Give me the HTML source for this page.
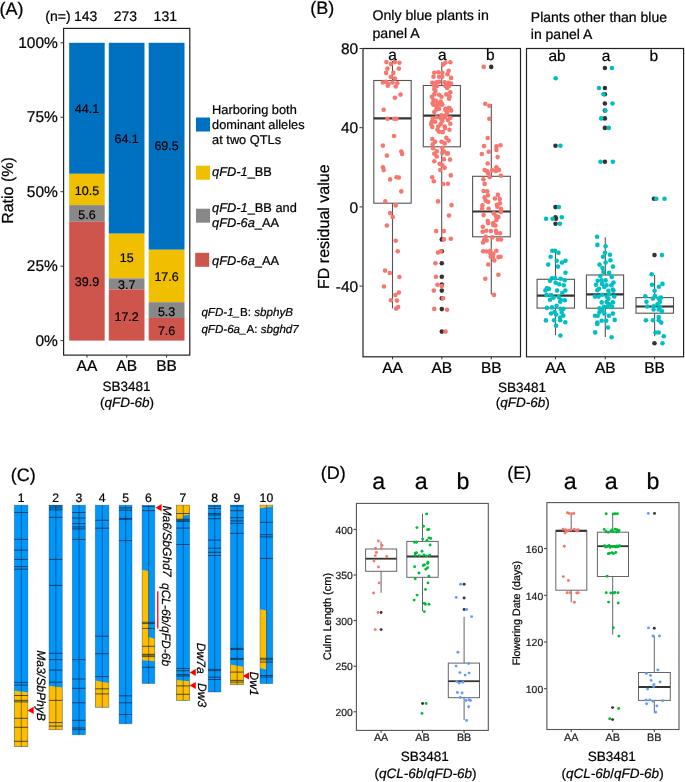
<!DOCTYPE html>
<html><head><meta charset="utf-8"><style>
html,body{margin:0;padding:0;background:#fff;}
body{width:685px;height:782px;overflow:hidden;}
svg{display:block;font-family:"Liberation Sans", sans-serif;will-change:transform;}
text{fill:#000;stroke:#000;stroke-width:0.22px;text-rendering:geometricPrecision;}
</style></head><body>
<svg width="685" height="782" viewBox="0 0 685 782">
<text x="-0.6" y="14.9" font-size="18" text-anchor="start" >(A)</text>
<text x="45.3" y="20.8" font-size="14" text-anchor="start" >(n=)</text>
<text x="85.65" y="20.8" font-size="14" text-anchor="middle" >143</text>
<rect x="69.20" y="42.80" width="35.50" height="131.03" fill="#0070C0" />
<rect x="69.20" y="173.83" width="35.50" height="31.27" fill="#F0C000" />
<rect x="69.20" y="205.10" width="35.50" height="16.68" fill="#888888" />
<rect x="69.20" y="221.78" width="35.50" height="118.82" fill="#CE554C" />
<text x="125.35000000000001" y="20.8" font-size="14" text-anchor="middle" >273</text>
<rect x="108.80" y="42.80" width="35.70" height="190.89" fill="#0070C0" />
<rect x="108.80" y="233.69" width="35.70" height="44.67" fill="#F0C000" />
<rect x="108.80" y="278.36" width="35.70" height="11.02" fill="#888888" />
<rect x="108.80" y="289.38" width="35.70" height="51.22" fill="#CE554C" />
<text x="165.29999999999998" y="20.8" font-size="14" text-anchor="middle" >131</text>
<rect x="148.70" y="42.80" width="35.80" height="206.97" fill="#0070C0" />
<rect x="148.70" y="249.77" width="35.80" height="52.41" fill="#F0C000" />
<rect x="148.70" y="302.18" width="35.80" height="15.78" fill="#888888" />
<rect x="148.70" y="317.97" width="35.80" height="22.63" fill="#CE554C" />
<rect x="63.6" y="28.4" width="126.2" height="326.7" fill="none" stroke="#222" stroke-width="1.2"/>
<line x1="60.50" y1="42.80" x2="63.50" y2="42.80" stroke="#333" stroke-width="1" />
<text x="57.9" y="48.000000000000014" font-size="15.5" text-anchor="end" >100%</text>
<line x1="60.50" y1="117.25" x2="63.50" y2="117.25" stroke="#333" stroke-width="1" />
<text x="57.9" y="122.45000000000003" font-size="15.5" text-anchor="end" >75%</text>
<line x1="60.50" y1="191.70" x2="63.50" y2="191.70" stroke="#333" stroke-width="1" />
<text x="57.9" y="196.9" font-size="15.5" text-anchor="end" >50%</text>
<line x1="60.50" y1="266.15" x2="63.50" y2="266.15" stroke="#333" stroke-width="1" />
<text x="57.9" y="271.35" font-size="15.5" text-anchor="end" >25%</text>
<line x1="60.50" y1="340.60" x2="63.50" y2="340.60" stroke="#333" stroke-width="1" />
<text x="57.9" y="345.8" font-size="15.5" text-anchor="end" >0%</text>
<line x1="86.95" y1="354.90" x2="86.95" y2="357.60" stroke="#333" stroke-width="1" />
<text x="86.95" y="371.3" font-size="15.5" text-anchor="middle" >AA</text>
<line x1="126.65" y1="354.90" x2="126.65" y2="357.60" stroke="#333" stroke-width="1" />
<text x="126.65" y="371.3" font-size="15.5" text-anchor="middle" >AB</text>
<line x1="166.60" y1="354.90" x2="166.60" y2="357.60" stroke="#333" stroke-width="1" />
<text x="166.6" y="371.3" font-size="15.5" text-anchor="middle" >BB</text>
<text x="86.95" y="112.8" font-size="12.5" text-anchor="middle" >44.1</text>
<text x="86.95" y="194.8" font-size="12.5" text-anchor="middle" >10.5</text>
<text x="86.95" y="219.2" font-size="12.5" text-anchor="middle" >5.6</text>
<text x="86.95" y="286.4" font-size="12.5" text-anchor="middle" >39.9</text>
<text x="126.65" y="143.4" font-size="12.5" text-anchor="middle" >64.1</text>
<text x="126.65" y="261.6" font-size="12.5" text-anchor="middle" >15</text>
<text x="126.65" y="289.3" font-size="12.5" text-anchor="middle" >3.7</text>
<text x="126.65" y="320.5" font-size="12.5" text-anchor="middle" >17.2</text>
<text x="166.6" y="150.4" font-size="12.5" text-anchor="middle" >69.5</text>
<text x="166.6" y="281.4" font-size="12.5" text-anchor="middle" >17.6</text>
<text x="166.6" y="315.6" font-size="12.5" text-anchor="middle" >5.3</text>
<text x="166.6" y="334.5" font-size="12.5" text-anchor="middle" >7.6</text>
<text x="126.6" y="391.3" font-size="13.5" text-anchor="middle" >SB3481</text>
<text x="126.9" y="407.0" font-size="13.5" text-anchor="middle" >(<tspan font-style="italic">qFD-6b</tspan>)</text>
<text x="0" y="0" font-size="16" text-anchor="middle" transform="translate(12.9,190.5) rotate(-90)" >Ratio (%)</text>
<rect x="196.00" y="117.50" width="14.00" height="14.00" fill="#0070C0" />
<rect x="196.00" y="165.70" width="14.00" height="14.00" fill="#F0C000" />
<rect x="196.00" y="208.70" width="14.00" height="14.00" fill="#888888" />
<rect x="195.20" y="252.80" width="14.00" height="14.00" fill="#CE554C" />
<text x="212.1" y="113.6" font-size="12.8" text-anchor="start" >Harboring both</text>
<text x="212.1" y="129.0" font-size="12.8" text-anchor="start" >dominant alleles</text>
<text x="212.1" y="143.9" font-size="12.8" text-anchor="start" >at two QTLs</text>
<text x="212.1" y="176.0" font-size="12.8" text-anchor="start" ><tspan font-style="italic">qFD-1</tspan>_BB</text>
<text x="212.1" y="211.5" font-size="12.8" text-anchor="start" ><tspan font-style="italic">qFD-1</tspan>_BB and</text>
<text x="212.1" y="226.8" font-size="12.8" text-anchor="start" ><tspan font-style="italic">qFD-6a</tspan>_AA</text>
<text x="212.1" y="265.0" font-size="12.8" text-anchor="start" ><tspan font-style="italic">qFD-6a</tspan>_AA</text>
<text x="201.4" y="315.8" font-size="11.6" text-anchor="start" ><tspan font-style="italic">qFD-1_</tspan>B: <tspan font-style="italic">sbphyB</tspan></text>
<text x="201.4" y="333.0" font-size="11.6" text-anchor="start" ><tspan font-style="italic">qFD-6a_</tspan>A: <tspan font-style="italic">sbghd7</tspan></text>
<text x="310.2" y="13.7" font-size="18" text-anchor="start" >(B)</text>
<text x="372.5" y="20.2" font-size="14.15" text-anchor="start" >Only blue plants in</text>
<text x="372.5" y="37.5" font-size="14.15" text-anchor="start" >panel A</text>
<text x="530.8" y="21.8" font-size="14" text-anchor="start" >Plants other than blue</text>
<text x="530.8" y="39.1" font-size="14" text-anchor="start" >in panel A</text>
<line x1="359.50" y1="48.50" x2="362.50" y2="48.50" stroke="#333" stroke-width="1" />
<text x="358.2" y="54.1" font-size="15.5" text-anchor="end" >80</text>
<line x1="359.50" y1="127.70" x2="362.50" y2="127.70" stroke="#333" stroke-width="1" />
<text x="358.2" y="133.3" font-size="15.5" text-anchor="end" >40</text>
<line x1="359.50" y1="206.90" x2="362.50" y2="206.90" stroke="#333" stroke-width="1" />
<text x="358.2" y="212.5" font-size="15.5" text-anchor="end" >0</text>
<line x1="359.50" y1="286.10" x2="362.50" y2="286.10" stroke="#333" stroke-width="1" />
<text x="358.2" y="291.70000000000005" font-size="15.5" text-anchor="end" >-40</text>
<text x="0" y="0" font-size="16" text-anchor="middle" transform="translate(329.4,226.7) rotate(-90)" >FD residual value</text>
<line x1="392.50" y1="61.00" x2="392.50" y2="80.50" stroke="#555" stroke-width="1.1" />
<line x1="392.50" y1="203.20" x2="392.50" y2="308.40" stroke="#555" stroke-width="1.1" />
<rect x="373.80" y="80.50" width="37.40" height="122.70" fill="none" stroke="#555" stroke-width="1.1"/>
<line x1="373.80" y1="118.30" x2="411.20" y2="118.30" stroke="#333" stroke-width="2.2" />
<line x1="441.70" y1="62.20" x2="441.70" y2="85.50" stroke="#555" stroke-width="1.1" />
<line x1="441.70" y1="146.80" x2="441.70" y2="239.40" stroke="#555" stroke-width="1.1" />
<rect x="423.30" y="85.50" width="37.10" height="61.30" fill="none" stroke="#555" stroke-width="1.1"/>
<line x1="423.30" y1="115.70" x2="460.40" y2="115.70" stroke="#333" stroke-width="2.2" />
<line x1="491.30" y1="104.10" x2="491.30" y2="176.30" stroke="#555" stroke-width="1.1" />
<line x1="491.30" y1="236.80" x2="491.30" y2="294.40" stroke="#555" stroke-width="1.1" />
<rect x="472.60" y="176.30" width="37.70" height="60.50" fill="none" stroke="#555" stroke-width="1.1"/>
<line x1="472.60" y1="211.50" x2="510.30" y2="211.50" stroke="#333" stroke-width="2.2" />
<line x1="555.50" y1="250.80" x2="555.50" y2="279.30" stroke="#555" stroke-width="1.1" />
<line x1="555.50" y1="308.10" x2="555.50" y2="335.20" stroke="#555" stroke-width="1.1" />
<rect x="537.10" y="279.30" width="37.40" height="28.80" fill="none" stroke="#555" stroke-width="1.1"/>
<line x1="537.10" y1="295.60" x2="574.50" y2="295.60" stroke="#333" stroke-width="2.2" />
<line x1="605.30" y1="237.20" x2="605.30" y2="275.00" stroke="#555" stroke-width="1.1" />
<line x1="605.30" y1="308.20" x2="605.30" y2="337.00" stroke="#555" stroke-width="1.1" />
<rect x="586.40" y="275.00" width="37.20" height="33.20" fill="none" stroke="#555" stroke-width="1.1"/>
<line x1="586.40" y1="294.30" x2="623.60" y2="294.30" stroke="#333" stroke-width="2.2" />
<line x1="654.60" y1="274.90" x2="654.60" y2="297.60" stroke="#555" stroke-width="1.1" />
<line x1="654.60" y1="313.20" x2="654.60" y2="336.30" stroke="#555" stroke-width="1.1" />
<rect x="636.00" y="297.60" width="37.50" height="15.60" fill="none" stroke="#555" stroke-width="1.1"/>
<line x1="636.00" y1="306.50" x2="673.50" y2="306.50" stroke="#333" stroke-width="2.2" />
<circle cx="441.8" cy="239.4" r="2.3" fill="#333333"/>
<circle cx="441.8" cy="251.3" r="2.3" fill="#333333"/>
<circle cx="441.8" cy="263.2" r="2.3" fill="#333333"/>
<circle cx="441.8" cy="276.8" r="2.3" fill="#333333"/>
<circle cx="441.8" cy="284.5" r="2.3" fill="#333333"/>
<circle cx="441.8" cy="290.6" r="2.3" fill="#333333"/>
<circle cx="441.8" cy="298.2" r="2.3" fill="#333333"/>
<circle cx="441.8" cy="309.1" r="2.3" fill="#333333"/>
<circle cx="441.8" cy="331.6" r="2.3" fill="#333333"/>
<circle cx="491.2" cy="66.9" r="2.3" fill="#333333"/>
<circle cx="555.5" cy="145.8" r="2.3" fill="#333333"/>
<circle cx="555.5" cy="207.1" r="2.3" fill="#333333"/>
<circle cx="555.5" cy="217.3" r="2.3" fill="#333333"/>
<circle cx="556.0" cy="218.8" r="2.3" fill="#333333"/>
<circle cx="555.5" cy="223.7" r="2.3" fill="#333333"/>
<circle cx="604.9" cy="68.0" r="2.3" fill="#333333"/>
<circle cx="604.9" cy="88.0" r="2.3" fill="#333333"/>
<circle cx="604.9" cy="94.2" r="2.3" fill="#333333"/>
<circle cx="604.9" cy="103.5" r="2.3" fill="#333333"/>
<circle cx="604.9" cy="110.5" r="2.3" fill="#333333"/>
<circle cx="604.9" cy="118.4" r="2.3" fill="#333333"/>
<circle cx="604.9" cy="127.9" r="2.3" fill="#333333"/>
<circle cx="604.9" cy="161.7" r="2.3" fill="#333333"/>
<circle cx="654.0" cy="198.8" r="2.3" fill="#333333"/>
<circle cx="654.5" cy="255.1" r="2.3" fill="#333333"/>
<circle cx="654.5" cy="343.3" r="2.3" fill="#333333"/>
<circle cx="386.4" cy="62.1" r="2.3" fill="#F8766D"/>
<circle cx="390.9" cy="64.1" r="2.3" fill="#F8766D"/>
<circle cx="394.9" cy="62.1" r="2.3" fill="#F8766D"/>
<circle cx="399.4" cy="62.8" r="2.3" fill="#F8766D"/>
<circle cx="387.4" cy="68.6" r="2.3" fill="#F8766D"/>
<circle cx="398.9" cy="68.6" r="2.3" fill="#F8766D"/>
<circle cx="386.1" cy="72.9" r="2.3" fill="#F8766D"/>
<circle cx="393.3" cy="72.9" r="2.3" fill="#F8766D"/>
<circle cx="390.9" cy="76.9" r="2.3" fill="#F8766D"/>
<circle cx="394.9" cy="78.5" r="2.3" fill="#F8766D"/>
<circle cx="382.9" cy="82.5" r="2.3" fill="#F8766D"/>
<circle cx="386.1" cy="81.7" r="2.3" fill="#F8766D"/>
<circle cx="388.5" cy="84.1" r="2.3" fill="#F8766D"/>
<circle cx="387.7" cy="85.7" r="2.3" fill="#F8766D"/>
<circle cx="392.5" cy="82.5" r="2.3" fill="#F8766D"/>
<circle cx="397.3" cy="83.3" r="2.3" fill="#F8766D"/>
<circle cx="395.7" cy="86.5" r="2.3" fill="#F8766D"/>
<circle cx="400.5" cy="94.6" r="2.3" fill="#F8766D"/>
<circle cx="394.9" cy="97.8" r="2.3" fill="#F8766D"/>
<circle cx="383.7" cy="109.8" r="2.3" fill="#F8766D"/>
<circle cx="387.4" cy="118.7" r="2.3" fill="#F8766D"/>
<circle cx="394.1" cy="118.7" r="2.3" fill="#F8766D"/>
<circle cx="396.5" cy="118.7" r="2.3" fill="#F8766D"/>
<circle cx="394.1" cy="136.0" r="2.3" fill="#F8766D"/>
<circle cx="382.9" cy="145.6" r="2.3" fill="#F8766D"/>
<circle cx="386.9" cy="155.6" r="2.3" fill="#F8766D"/>
<circle cx="401.3" cy="151.6" r="2.3" fill="#F8766D"/>
<circle cx="402.1" cy="154.0" r="2.3" fill="#F8766D"/>
<circle cx="382.9" cy="167.3" r="2.3" fill="#F8766D"/>
<circle cx="383.7" cy="170.1" r="2.3" fill="#F8766D"/>
<circle cx="390.1" cy="179.4" r="2.3" fill="#F8766D"/>
<circle cx="396.5" cy="177.3" r="2.3" fill="#F8766D"/>
<circle cx="398.9" cy="177.6" r="2.3" fill="#F8766D"/>
<circle cx="401.3" cy="191.4" r="2.3" fill="#F8766D"/>
<circle cx="385.3" cy="201.4" r="2.3" fill="#F8766D"/>
<circle cx="395.7" cy="205.4" r="2.3" fill="#F8766D"/>
<circle cx="390.1" cy="213.1" r="2.3" fill="#F8766D"/>
<circle cx="392.8" cy="217.0" r="2.3" fill="#F8766D"/>
<circle cx="386.9" cy="225.5" r="2.3" fill="#F8766D"/>
<circle cx="395.7" cy="240.7" r="2.3" fill="#F8766D"/>
<circle cx="397.7" cy="251.3" r="2.3" fill="#F8766D"/>
<circle cx="385.0" cy="270.6" r="2.3" fill="#F8766D"/>
<circle cx="389.8" cy="273.0" r="2.3" fill="#F8766D"/>
<circle cx="399.4" cy="277.0" r="2.3" fill="#F8766D"/>
<circle cx="384.0" cy="286.5" r="2.3" fill="#F8766D"/>
<circle cx="398.9" cy="292.6" r="2.3" fill="#F8766D"/>
<circle cx="395.4" cy="295.0" r="2.3" fill="#F8766D"/>
<circle cx="390.9" cy="300.3" r="2.3" fill="#F8766D"/>
<circle cx="397.0" cy="300.6" r="2.3" fill="#F8766D"/>
<circle cx="398.1" cy="307.0" r="2.3" fill="#F8766D"/>
<circle cx="396.2" cy="308.6" r="2.3" fill="#F8766D"/>
<circle cx="443.1" cy="64.6" r="2.3" fill="#F8766D"/>
<circle cx="445.5" cy="62.6" r="2.3" fill="#F8766D"/>
<circle cx="450.3" cy="62.2" r="2.3" fill="#F8766D"/>
<circle cx="448.7" cy="70.7" r="2.3" fill="#F8766D"/>
<circle cx="447.5" cy="74.3" r="2.3" fill="#F8766D"/>
<circle cx="434.3" cy="72.7" r="2.3" fill="#F8766D"/>
<circle cx="438.3" cy="72.3" r="2.3" fill="#F8766D"/>
<circle cx="442.3" cy="72.7" r="2.3" fill="#F8766D"/>
<circle cx="433.5" cy="76.7" r="2.3" fill="#F8766D"/>
<circle cx="439.1" cy="76.7" r="2.3" fill="#F8766D"/>
<circle cx="442.3" cy="76.7" r="2.3" fill="#F8766D"/>
<circle cx="451.1" cy="77.9" r="2.3" fill="#F8766D"/>
<circle cx="432.3" cy="82.7" r="2.3" fill="#F8766D"/>
<circle cx="436.3" cy="82.3" r="2.3" fill="#F8766D"/>
<circle cx="439.1" cy="81.9" r="2.3" fill="#F8766D"/>
<circle cx="444.7" cy="82.3" r="2.3" fill="#F8766D"/>
<circle cx="448.7" cy="82.7" r="2.3" fill="#F8766D"/>
<circle cx="451.1" cy="83.5" r="2.3" fill="#F8766D"/>
<circle cx="433.9" cy="85.5" r="2.3" fill="#F8766D"/>
<circle cx="436.7" cy="86.3" r="2.3" fill="#F8766D"/>
<circle cx="445.5" cy="85.9" r="2.3" fill="#F8766D"/>
<circle cx="448.7" cy="86.3" r="2.3" fill="#F8766D"/>
<circle cx="434.3" cy="89.1" r="2.3" fill="#F8766D"/>
<circle cx="447.1" cy="87.9" r="2.3" fill="#F8766D"/>
<circle cx="435.5" cy="91.1" r="2.3" fill="#F8766D"/>
<circle cx="450.3" cy="92.3" r="2.3" fill="#F8766D"/>
<circle cx="434.3" cy="94.4" r="2.3" fill="#F8766D"/>
<circle cx="439.1" cy="94.8" r="2.3" fill="#F8766D"/>
<circle cx="446.3" cy="94.4" r="2.3" fill="#F8766D"/>
<circle cx="449.5" cy="96.4" r="2.3" fill="#F8766D"/>
<circle cx="431.9" cy="96.8" r="2.3" fill="#F8766D"/>
<circle cx="441.5" cy="96.8" r="2.3" fill="#F8766D"/>
<circle cx="449.1" cy="98.8" r="2.3" fill="#F8766D"/>
<circle cx="433.5" cy="100.0" r="2.3" fill="#F8766D"/>
<circle cx="432.7" cy="103.2" r="2.3" fill="#F8766D"/>
<circle cx="437.5" cy="102.8" r="2.3" fill="#F8766D"/>
<circle cx="440.7" cy="101.6" r="2.3" fill="#F8766D"/>
<circle cx="441.5" cy="104.8" r="2.3" fill="#F8766D"/>
<circle cx="436.7" cy="106.4" r="2.3" fill="#F8766D"/>
<circle cx="445.5" cy="108.8" r="2.3" fill="#F8766D"/>
<circle cx="449.5" cy="108.0" r="2.3" fill="#F8766D"/>
<circle cx="439.1" cy="108.8" r="2.3" fill="#F8766D"/>
<circle cx="435.9" cy="100.8" r="2.3" fill="#F8766D"/>
<circle cx="439.9" cy="103.2" r="2.3" fill="#F8766D"/>
<circle cx="442.3" cy="104.4" r="2.3" fill="#F8766D"/>
<circle cx="433.5" cy="104.8" r="2.3" fill="#F8766D"/>
<circle cx="437.5" cy="105.6" r="2.3" fill="#F8766D"/>
<circle cx="436.3" cy="109.6" r="2.3" fill="#F8766D"/>
<circle cx="434.3" cy="112.0" r="2.3" fill="#F8766D"/>
<circle cx="448.7" cy="108.0" r="2.3" fill="#F8766D"/>
<circle cx="445.5" cy="110.0" r="2.3" fill="#F8766D"/>
<circle cx="451.1" cy="110.4" r="2.3" fill="#F8766D"/>
<circle cx="447.1" cy="112.4" r="2.3" fill="#F8766D"/>
<circle cx="441.5" cy="115.3" r="2.3" fill="#F8766D"/>
<circle cx="446.3" cy="114.9" r="2.3" fill="#F8766D"/>
<circle cx="432.7" cy="118.5" r="2.3" fill="#F8766D"/>
<circle cx="436.7" cy="117.3" r="2.3" fill="#F8766D"/>
<circle cx="440.7" cy="118.5" r="2.3" fill="#F8766D"/>
<circle cx="444.7" cy="117.3" r="2.3" fill="#F8766D"/>
<circle cx="450.3" cy="117.7" r="2.3" fill="#F8766D"/>
<circle cx="431.9" cy="121.7" r="2.3" fill="#F8766D"/>
<circle cx="435.1" cy="121.7" r="2.3" fill="#F8766D"/>
<circle cx="442.3" cy="120.9" r="2.3" fill="#F8766D"/>
<circle cx="447.9" cy="120.1" r="2.3" fill="#F8766D"/>
<circle cx="431.1" cy="124.1" r="2.3" fill="#F8766D"/>
<circle cx="440.7" cy="124.1" r="2.3" fill="#F8766D"/>
<circle cx="450.3" cy="123.7" r="2.3" fill="#F8766D"/>
<circle cx="432.3" cy="126.9" r="2.3" fill="#F8766D"/>
<circle cx="438.3" cy="126.5" r="2.3" fill="#F8766D"/>
<circle cx="444.7" cy="126.5" r="2.3" fill="#F8766D"/>
<circle cx="445.1" cy="128.1" r="2.3" fill="#F8766D"/>
<circle cx="437.5" cy="129.7" r="2.3" fill="#F8766D"/>
<circle cx="449.5" cy="129.7" r="2.3" fill="#F8766D"/>
<circle cx="439.1" cy="131.7" r="2.3" fill="#F8766D"/>
<circle cx="442.7" cy="132.1" r="2.3" fill="#F8766D"/>
<circle cx="432.3" cy="139.0" r="2.3" fill="#F8766D"/>
<circle cx="435.1" cy="141.8" r="2.3" fill="#F8766D"/>
<circle cx="441.5" cy="141.8" r="2.3" fill="#F8766D"/>
<circle cx="446.3" cy="137.8" r="2.3" fill="#F8766D"/>
<circle cx="448.7" cy="140.6" r="2.3" fill="#F8766D"/>
<circle cx="444.7" cy="143.4" r="2.3" fill="#F8766D"/>
<circle cx="432.7" cy="144.2" r="2.3" fill="#F8766D"/>
<circle cx="433.1" cy="148.2" r="2.3" fill="#F8766D"/>
<circle cx="442.3" cy="147.8" r="2.3" fill="#F8766D"/>
<circle cx="436.7" cy="151.4" r="2.3" fill="#F8766D"/>
<circle cx="443.9" cy="151.4" r="2.3" fill="#F8766D"/>
<circle cx="434.3" cy="153.8" r="2.3" fill="#F8766D"/>
<circle cx="447.9" cy="153.4" r="2.3" fill="#F8766D"/>
<circle cx="432.2" cy="177.3" r="2.3" fill="#F8766D"/>
<circle cx="433.8" cy="181.3" r="2.3" fill="#F8766D"/>
<circle cx="443.1" cy="184.0" r="2.3" fill="#F8766D"/>
<circle cx="447.9" cy="183.7" r="2.3" fill="#F8766D"/>
<circle cx="450.8" cy="175.4" r="2.3" fill="#F8766D"/>
<circle cx="440.2" cy="170.1" r="2.3" fill="#F8766D"/>
<circle cx="444.7" cy="167.7" r="2.3" fill="#F8766D"/>
<circle cx="442.3" cy="165.3" r="2.3" fill="#F8766D"/>
<circle cx="439.6" cy="163.7" r="2.3" fill="#F8766D"/>
<circle cx="434.3" cy="161.2" r="2.3" fill="#F8766D"/>
<circle cx="443.9" cy="159.3" r="2.3" fill="#F8766D"/>
<circle cx="450.0" cy="159.6" r="2.3" fill="#F8766D"/>
<circle cx="436.7" cy="156.4" r="2.3" fill="#F8766D"/>
<circle cx="442.3" cy="152.9" r="2.3" fill="#F8766D"/>
<circle cx="447.1" cy="153.5" r="2.3" fill="#F8766D"/>
<circle cx="438.0" cy="201.4" r="2.3" fill="#F8766D"/>
<circle cx="451.5" cy="205.1" r="2.3" fill="#F8766D"/>
<circle cx="449.0" cy="215.5" r="2.3" fill="#F8766D"/>
<circle cx="436.2" cy="231.1" r="2.3" fill="#F8766D"/>
<circle cx="443.9" cy="231.1" r="2.3" fill="#F8766D"/>
<circle cx="443.9" cy="239.4" r="2.3" fill="#F8766D"/>
<circle cx="450.8" cy="238.8" r="2.3" fill="#F8766D"/>
<circle cx="438.0" cy="252.5" r="2.3" fill="#F8766D"/>
<circle cx="440.7" cy="251.2" r="2.3" fill="#F8766D"/>
<circle cx="435.4" cy="263.2" r="2.3" fill="#F8766D"/>
<circle cx="435.9" cy="276.8" r="2.3" fill="#F8766D"/>
<circle cx="437.5" cy="284.8" r="2.3" fill="#F8766D"/>
<circle cx="441.8" cy="286.1" r="2.3" fill="#F8766D"/>
<circle cx="433.8" cy="290.6" r="2.3" fill="#F8766D"/>
<circle cx="443.1" cy="298.2" r="2.3" fill="#F8766D"/>
<circle cx="434.3" cy="308.9" r="2.3" fill="#F8766D"/>
<circle cx="447.1" cy="309.7" r="2.3" fill="#F8766D"/>
<circle cx="445.5" cy="331.6" r="2.3" fill="#F8766D"/>
<circle cx="483.7" cy="66.9" r="2.3" fill="#F8766D"/>
<circle cx="485.3" cy="103.8" r="2.3" fill="#F8766D"/>
<circle cx="489.3" cy="105.7" r="2.3" fill="#F8766D"/>
<circle cx="489.3" cy="118.7" r="2.3" fill="#F8766D"/>
<circle cx="487.7" cy="138.0" r="2.3" fill="#F8766D"/>
<circle cx="484.1" cy="146.1" r="2.3" fill="#F8766D"/>
<circle cx="488.7" cy="151.7" r="2.3" fill="#F8766D"/>
<circle cx="481.8" cy="154.0" r="2.3" fill="#F8766D"/>
<circle cx="496.4" cy="146.4" r="2.3" fill="#F8766D"/>
<circle cx="500.5" cy="145.3" r="2.3" fill="#F8766D"/>
<circle cx="496.4" cy="149.9" r="2.3" fill="#F8766D"/>
<circle cx="497.6" cy="157.1" r="2.3" fill="#F8766D"/>
<circle cx="487.7" cy="163.5" r="2.3" fill="#F8766D"/>
<circle cx="484.6" cy="170.1" r="2.3" fill="#F8766D"/>
<circle cx="487.2" cy="171.4" r="2.3" fill="#F8766D"/>
<circle cx="488.2" cy="173.4" r="2.3" fill="#F8766D"/>
<circle cx="489.7" cy="177.3" r="2.3" fill="#F8766D"/>
<circle cx="492.3" cy="170.2" r="2.3" fill="#F8766D"/>
<circle cx="496.4" cy="167.3" r="2.3" fill="#F8766D"/>
<circle cx="495.9" cy="170.9" r="2.3" fill="#F8766D"/>
<circle cx="498.9" cy="169.9" r="2.3" fill="#F8766D"/>
<circle cx="501.0" cy="175.7" r="2.3" fill="#F8766D"/>
<circle cx="483.4" cy="179.3" r="2.3" fill="#F8766D"/>
<circle cx="484.6" cy="183.9" r="2.3" fill="#F8766D"/>
<circle cx="483.6" cy="191.0" r="2.3" fill="#F8766D"/>
<circle cx="487.2" cy="191.3" r="2.3" fill="#F8766D"/>
<circle cx="487.9" cy="195.2" r="2.3" fill="#F8766D"/>
<circle cx="484.6" cy="197.4" r="2.3" fill="#F8766D"/>
<circle cx="497.9" cy="194.9" r="2.3" fill="#F8766D"/>
<circle cx="494.9" cy="198.5" r="2.3" fill="#F8766D"/>
<circle cx="499.7" cy="199.0" r="2.3" fill="#F8766D"/>
<circle cx="485.7" cy="200.6" r="2.3" fill="#F8766D"/>
<circle cx="488.2" cy="202.0" r="2.3" fill="#F8766D"/>
<circle cx="500.0" cy="203.2" r="2.3" fill="#F8766D"/>
<circle cx="496.9" cy="204.7" r="2.3" fill="#F8766D"/>
<circle cx="497.4" cy="206.8" r="2.3" fill="#F8766D"/>
<circle cx="482.4" cy="205.2" r="2.3" fill="#F8766D"/>
<circle cx="482.1" cy="208.8" r="2.3" fill="#F8766D"/>
<circle cx="488.7" cy="208.8" r="2.3" fill="#F8766D"/>
<circle cx="501.0" cy="208.8" r="2.3" fill="#F8766D"/>
<circle cx="501.0" cy="211.9" r="2.3" fill="#F8766D"/>
<circle cx="483.6" cy="215.1" r="2.3" fill="#F8766D"/>
<circle cx="493.8" cy="213.4" r="2.3" fill="#F8766D"/>
<circle cx="495.9" cy="215.9" r="2.3" fill="#F8766D"/>
<circle cx="498.4" cy="217.0" r="2.3" fill="#F8766D"/>
<circle cx="496.4" cy="220.0" r="2.3" fill="#F8766D"/>
<circle cx="487.7" cy="221.1" r="2.3" fill="#F8766D"/>
<circle cx="488.2" cy="223.1" r="2.3" fill="#F8766D"/>
<circle cx="493.3" cy="223.1" r="2.3" fill="#F8766D"/>
<circle cx="493.3" cy="225.1" r="2.3" fill="#F8766D"/>
<circle cx="495.4" cy="225.5" r="2.3" fill="#F8766D"/>
<circle cx="482.8" cy="226.7" r="2.3" fill="#F8766D"/>
<circle cx="482.6" cy="231.8" r="2.3" fill="#F8766D"/>
<circle cx="486.2" cy="230.8" r="2.3" fill="#F8766D"/>
<circle cx="490.8" cy="231.0" r="2.3" fill="#F8766D"/>
<circle cx="495.9" cy="230.8" r="2.3" fill="#F8766D"/>
<circle cx="496.4" cy="233.0" r="2.3" fill="#F8766D"/>
<circle cx="500.0" cy="233.3" r="2.3" fill="#F8766D"/>
<circle cx="485.7" cy="236.9" r="2.3" fill="#F8766D"/>
<circle cx="484.1" cy="240.0" r="2.3" fill="#F8766D"/>
<circle cx="486.7" cy="240.5" r="2.3" fill="#F8766D"/>
<circle cx="483.1" cy="242.5" r="2.3" fill="#F8766D"/>
<circle cx="492.3" cy="237.4" r="2.3" fill="#F8766D"/>
<circle cx="497.9" cy="239.5" r="2.3" fill="#F8766D"/>
<circle cx="501.0" cy="239.5" r="2.3" fill="#F8766D"/>
<circle cx="483.1" cy="251.2" r="2.3" fill="#F8766D"/>
<circle cx="486.2" cy="251.5" r="2.3" fill="#F8766D"/>
<circle cx="490.3" cy="250.7" r="2.3" fill="#F8766D"/>
<circle cx="490.3" cy="253.2" r="2.3" fill="#F8766D"/>
<circle cx="493.3" cy="253.8" r="2.3" fill="#F8766D"/>
<circle cx="496.4" cy="250.7" r="2.3" fill="#F8766D"/>
<circle cx="490.8" cy="256.8" r="2.3" fill="#F8766D"/>
<circle cx="498.4" cy="257.1" r="2.3" fill="#F8766D"/>
<circle cx="500.5" cy="256.8" r="2.3" fill="#F8766D"/>
<circle cx="494.3" cy="260.4" r="2.3" fill="#F8766D"/>
<circle cx="488.2" cy="264.5" r="2.3" fill="#F8766D"/>
<circle cx="492.8" cy="256.8" r="2.3" fill="#F8766D"/>
<circle cx="498.4" cy="274.7" r="2.3" fill="#F8766D"/>
<circle cx="485.3" cy="278.7" r="2.3" fill="#F8766D"/>
<circle cx="494.0" cy="294.9" r="2.3" fill="#F8766D"/>
<circle cx="555.7" cy="78.2" r="2.3" fill="#00BFC4"/>
<circle cx="560.4" cy="145.8" r="2.3" fill="#00BFC4"/>
<circle cx="558.9" cy="207.1" r="2.3" fill="#00BFC4"/>
<circle cx="546.1" cy="218.8" r="2.3" fill="#00BFC4"/>
<circle cx="552.6" cy="218.8" r="2.3" fill="#00BFC4"/>
<circle cx="561.8" cy="217.3" r="2.3" fill="#00BFC4"/>
<circle cx="559.9" cy="223.7" r="2.3" fill="#00BFC4"/>
<circle cx="552.3" cy="250.8" r="2.3" fill="#00BFC4"/>
<circle cx="555.0" cy="250.8" r="2.3" fill="#00BFC4"/>
<circle cx="558.5" cy="252.8" r="2.3" fill="#00BFC4"/>
<circle cx="550.6" cy="256.7" r="2.3" fill="#00BFC4"/>
<circle cx="556.7" cy="260.7" r="2.3" fill="#00BFC4"/>
<circle cx="562.0" cy="262.6" r="2.3" fill="#00BFC4"/>
<circle cx="565.5" cy="260.7" r="2.3" fill="#00BFC4"/>
<circle cx="548.2" cy="264.6" r="2.3" fill="#00BFC4"/>
<circle cx="557.9" cy="266.6" r="2.3" fill="#00BFC4"/>
<circle cx="565.5" cy="272.7" r="2.3" fill="#00BFC4"/>
<circle cx="550.0" cy="280.8" r="2.3" fill="#00BFC4"/>
<circle cx="552.0" cy="278.2" r="2.3" fill="#00BFC4"/>
<circle cx="555.1" cy="278.2" r="2.3" fill="#00BFC4"/>
<circle cx="560.7" cy="278.7" r="2.3" fill="#00BFC4"/>
<circle cx="564.8" cy="280.2" r="2.3" fill="#00BFC4"/>
<circle cx="555.6" cy="282.8" r="2.3" fill="#00BFC4"/>
<circle cx="559.2" cy="284.3" r="2.3" fill="#00BFC4"/>
<circle cx="563.8" cy="285.2" r="2.3" fill="#00BFC4"/>
<circle cx="546.9" cy="288.4" r="2.3" fill="#00BFC4"/>
<circle cx="548.9" cy="288.9" r="2.3" fill="#00BFC4"/>
<circle cx="545.4" cy="290.5" r="2.3" fill="#00BFC4"/>
<circle cx="557.1" cy="290.5" r="2.3" fill="#00BFC4"/>
<circle cx="565.3" cy="290.5" r="2.3" fill="#00BFC4"/>
<circle cx="562.3" cy="293.0" r="2.3" fill="#00BFC4"/>
<circle cx="546.4" cy="295.1" r="2.3" fill="#00BFC4"/>
<circle cx="551.0" cy="295.1" r="2.3" fill="#00BFC4"/>
<circle cx="553.5" cy="297.6" r="2.3" fill="#00BFC4"/>
<circle cx="550.0" cy="299.7" r="2.3" fill="#00BFC4"/>
<circle cx="558.7" cy="297.1" r="2.3" fill="#00BFC4"/>
<circle cx="560.7" cy="299.7" r="2.3" fill="#00BFC4"/>
<circle cx="564.8" cy="300.2" r="2.3" fill="#00BFC4"/>
<circle cx="560.2" cy="301.7" r="2.3" fill="#00BFC4"/>
<circle cx="546.9" cy="307.9" r="2.3" fill="#00BFC4"/>
<circle cx="552.0" cy="307.4" r="2.3" fill="#00BFC4"/>
<circle cx="556.6" cy="305.8" r="2.3" fill="#00BFC4"/>
<circle cx="560.7" cy="308.9" r="2.3" fill="#00BFC4"/>
<circle cx="563.3" cy="308.9" r="2.3" fill="#00BFC4"/>
<circle cx="551.0" cy="313.5" r="2.3" fill="#00BFC4"/>
<circle cx="554.6" cy="312.0" r="2.3" fill="#00BFC4"/>
<circle cx="556.1" cy="314.5" r="2.3" fill="#00BFC4"/>
<circle cx="561.7" cy="312.5" r="2.3" fill="#00BFC4"/>
<circle cx="563.3" cy="315.6" r="2.3" fill="#00BFC4"/>
<circle cx="560.2" cy="317.6" r="2.3" fill="#00BFC4"/>
<circle cx="545.9" cy="320.4" r="2.3" fill="#00BFC4"/>
<circle cx="554.1" cy="320.2" r="2.3" fill="#00BFC4"/>
<circle cx="560.2" cy="320.2" r="2.3" fill="#00BFC4"/>
<circle cx="565.3" cy="322.2" r="2.3" fill="#00BFC4"/>
<circle cx="556.1" cy="325.8" r="2.3" fill="#00BFC4"/>
<circle cx="560.4" cy="335.5" r="2.3" fill="#00BFC4"/>
<circle cx="611.9" cy="68.0" r="2.3" fill="#00BFC4"/>
<circle cx="599.0" cy="88.0" r="2.3" fill="#00BFC4"/>
<circle cx="603.5" cy="94.2" r="2.3" fill="#00BFC4"/>
<circle cx="612.5" cy="103.5" r="2.3" fill="#00BFC4"/>
<circle cx="605.4" cy="110.5" r="2.3" fill="#00BFC4"/>
<circle cx="601.2" cy="118.4" r="2.3" fill="#00BFC4"/>
<circle cx="608.8" cy="127.9" r="2.3" fill="#00BFC4"/>
<circle cx="600.5" cy="161.7" r="2.3" fill="#00BFC4"/>
<circle cx="612.8" cy="161.7" r="2.3" fill="#00BFC4"/>
<circle cx="597.1" cy="236.8" r="2.3" fill="#00BFC4"/>
<circle cx="597.4" cy="244.9" r="2.3" fill="#00BFC4"/>
<circle cx="605.6" cy="246.2" r="2.3" fill="#00BFC4"/>
<circle cx="605.0" cy="252.8" r="2.3" fill="#00BFC4"/>
<circle cx="603.0" cy="256.7" r="2.3" fill="#00BFC4"/>
<circle cx="610.0" cy="254.8" r="2.3" fill="#00BFC4"/>
<circle cx="610.4" cy="260.2" r="2.3" fill="#00BFC4"/>
<circle cx="605.6" cy="262.6" r="2.3" fill="#00BFC4"/>
<circle cx="599.5" cy="264.6" r="2.3" fill="#00BFC4"/>
<circle cx="613.0" cy="266.6" r="2.3" fill="#00BFC4"/>
<circle cx="602.5" cy="268.1" r="2.3" fill="#00BFC4"/>
<circle cx="603.4" cy="272.0" r="2.3" fill="#00BFC4"/>
<circle cx="609.1" cy="272.9" r="2.3" fill="#00BFC4"/>
<circle cx="611.7" cy="276.9" r="2.3" fill="#00BFC4"/>
<circle cx="600.3" cy="276.0" r="2.3" fill="#00BFC4"/>
<circle cx="597.7" cy="280.8" r="2.3" fill="#00BFC4"/>
<circle cx="601.6" cy="280.4" r="2.3" fill="#00BFC4"/>
<circle cx="605.6" cy="280.4" r="2.3" fill="#00BFC4"/>
<circle cx="613.5" cy="282.6" r="2.3" fill="#00BFC4"/>
<circle cx="596.0" cy="284.7" r="2.3" fill="#00BFC4"/>
<circle cx="602.1" cy="283.9" r="2.3" fill="#00BFC4"/>
<circle cx="606.5" cy="285.2" r="2.3" fill="#00BFC4"/>
<circle cx="611.3" cy="285.2" r="2.3" fill="#00BFC4"/>
<circle cx="599.0" cy="288.7" r="2.3" fill="#00BFC4"/>
<circle cx="604.3" cy="286.9" r="2.3" fill="#00BFC4"/>
<circle cx="613.0" cy="289.6" r="2.3" fill="#00BFC4"/>
<circle cx="597.3" cy="290.3" r="2.3" fill="#00BFC4"/>
<circle cx="608.4" cy="290.7" r="2.3" fill="#00BFC4"/>
<circle cx="613.4" cy="290.7" r="2.3" fill="#00BFC4"/>
<circle cx="595.0" cy="296.6" r="2.3" fill="#00BFC4"/>
<circle cx="598.6" cy="296.6" r="2.3" fill="#00BFC4"/>
<circle cx="602.2" cy="294.8" r="2.3" fill="#00BFC4"/>
<circle cx="606.7" cy="296.6" r="2.3" fill="#00BFC4"/>
<circle cx="609.3" cy="294.3" r="2.3" fill="#00BFC4"/>
<circle cx="614.3" cy="296.6" r="2.3" fill="#00BFC4"/>
<circle cx="608.4" cy="298.8" r="2.3" fill="#00BFC4"/>
<circle cx="601.7" cy="302.4" r="2.3" fill="#00BFC4"/>
<circle cx="606.7" cy="301.9" r="2.3" fill="#00BFC4"/>
<circle cx="612.9" cy="302.4" r="2.3" fill="#00BFC4"/>
<circle cx="609.3" cy="304.2" r="2.3" fill="#00BFC4"/>
<circle cx="599.5" cy="308.2" r="2.3" fill="#00BFC4"/>
<circle cx="604.0" cy="306.9" r="2.3" fill="#00BFC4"/>
<circle cx="607.6" cy="306.4" r="2.3" fill="#00BFC4"/>
<circle cx="612.0" cy="306.9" r="2.3" fill="#00BFC4"/>
<circle cx="602.2" cy="310.4" r="2.3" fill="#00BFC4"/>
<circle cx="599.5" cy="312.2" r="2.3" fill="#00BFC4"/>
<circle cx="604.4" cy="313.6" r="2.3" fill="#00BFC4"/>
<circle cx="612.9" cy="313.6" r="2.3" fill="#00BFC4"/>
<circle cx="595.0" cy="315.8" r="2.3" fill="#00BFC4"/>
<circle cx="597.7" cy="315.8" r="2.3" fill="#00BFC4"/>
<circle cx="608.9" cy="315.8" r="2.3" fill="#00BFC4"/>
<circle cx="601.7" cy="320.7" r="2.3" fill="#00BFC4"/>
<circle cx="606.2" cy="320.7" r="2.3" fill="#00BFC4"/>
<circle cx="614.7" cy="319.9" r="2.3" fill="#00BFC4"/>
<circle cx="597.3" cy="322.5" r="2.3" fill="#00BFC4"/>
<circle cx="597.3" cy="323.9" r="2.3" fill="#00BFC4"/>
<circle cx="608.0" cy="327.5" r="2.3" fill="#00BFC4"/>
<circle cx="595.2" cy="332.4" r="2.3" fill="#00BFC4"/>
<circle cx="611.6" cy="337.3" r="2.3" fill="#00BFC4"/>
<circle cx="656.3" cy="198.8" r="2.3" fill="#00BFC4"/>
<circle cx="664.5" cy="198.8" r="2.3" fill="#00BFC4"/>
<circle cx="661.9" cy="255.1" r="2.3" fill="#00BFC4"/>
<circle cx="651.7" cy="274.3" r="2.3" fill="#00BFC4"/>
<circle cx="652.0" cy="284.8" r="2.3" fill="#00BFC4"/>
<circle cx="658.9" cy="286.7" r="2.3" fill="#00BFC4"/>
<circle cx="662.5" cy="283.9" r="2.3" fill="#00BFC4"/>
<circle cx="654.6" cy="290.7" r="2.3" fill="#00BFC4"/>
<circle cx="645.3" cy="296.3" r="2.3" fill="#00BFC4"/>
<circle cx="654.9" cy="296.0" r="2.3" fill="#00BFC4"/>
<circle cx="652.9" cy="298.6" r="2.3" fill="#00BFC4"/>
<circle cx="658.7" cy="298.6" r="2.3" fill="#00BFC4"/>
<circle cx="661.0" cy="297.6" r="2.3" fill="#00BFC4"/>
<circle cx="646.5" cy="301.8" r="2.3" fill="#00BFC4"/>
<circle cx="660.0" cy="301.8" r="2.3" fill="#00BFC4"/>
<circle cx="647.2" cy="306.5" r="2.3" fill="#00BFC4"/>
<circle cx="653.6" cy="306.3" r="2.3" fill="#00BFC4"/>
<circle cx="657.4" cy="304.3" r="2.3" fill="#00BFC4"/>
<circle cx="660.0" cy="306.9" r="2.3" fill="#00BFC4"/>
<circle cx="653.6" cy="309.5" r="2.3" fill="#00BFC4"/>
<circle cx="658.7" cy="309.5" r="2.3" fill="#00BFC4"/>
<circle cx="661.9" cy="311.4" r="2.3" fill="#00BFC4"/>
<circle cx="645.9" cy="320.3" r="2.3" fill="#00BFC4"/>
<circle cx="652.9" cy="320.3" r="2.3" fill="#00BFC4"/>
<circle cx="658.7" cy="317.1" r="2.3" fill="#00BFC4"/>
<circle cx="658.7" cy="320.3" r="2.3" fill="#00BFC4"/>
<circle cx="661.2" cy="322.6" r="2.3" fill="#00BFC4"/>
<circle cx="655.5" cy="332.5" r="2.3" fill="#00BFC4"/>
<circle cx="658.7" cy="332.5" r="2.3" fill="#00BFC4"/>
<circle cx="663.8" cy="336.3" r="2.3" fill="#00BFC4"/>
<circle cx="662.5" cy="343.3" r="2.3" fill="#00BFC4"/>
<rect x="363.0" y="48.5" width="157.5" height="308.3" fill="none" stroke="#222" stroke-width="1.2"/>
<rect x="526.5" y="48.5" width="157.1" height="308.3" fill="none" stroke="#222" stroke-width="1.2"/>
<text x="392.5" y="60.4" font-size="15.5" text-anchor="middle" >a</text>
<text x="442.3" y="60.4" font-size="15.5" text-anchor="middle" >a</text>
<text x="490.3" y="60.4" font-size="15.5" text-anchor="middle" >b</text>
<text x="557" y="61.4" font-size="15.5" text-anchor="middle" >ab</text>
<text x="606" y="61.4" font-size="15.5" text-anchor="middle" >a</text>
<text x="653.8" y="61.4" font-size="15.5" text-anchor="middle" >b</text>
<line x1="392.50" y1="356.50" x2="392.50" y2="359.30" stroke="#333" stroke-width="1" />
<text x="392.5" y="373.3" font-size="15.5" text-anchor="middle" >AA</text>
<line x1="441.80" y1="356.50" x2="441.80" y2="359.30" stroke="#333" stroke-width="1" />
<text x="441.8" y="373.3" font-size="15.5" text-anchor="middle" >AB</text>
<line x1="491.30" y1="356.50" x2="491.30" y2="359.30" stroke="#333" stroke-width="1" />
<text x="491.3" y="373.3" font-size="15.5" text-anchor="middle" >BB</text>
<line x1="555.50" y1="356.50" x2="555.50" y2="359.30" stroke="#333" stroke-width="1" />
<text x="555.5" y="373.3" font-size="15.5" text-anchor="middle" >AA</text>
<line x1="605.30" y1="356.50" x2="605.30" y2="359.30" stroke="#333" stroke-width="1" />
<text x="605.3" y="373.3" font-size="15.5" text-anchor="middle" >AB</text>
<line x1="654.60" y1="356.50" x2="654.60" y2="359.30" stroke="#333" stroke-width="1" />
<text x="654.6" y="373.3" font-size="15.5" text-anchor="middle" >BB</text>
<text x="522" y="392" font-size="13.5" text-anchor="middle" >SB3481</text>
<text x="522.8" y="406.7" font-size="13.5" text-anchor="middle" >(<tspan font-style="italic">qFD-6b</tspan>)</text>
<text x="10.8" y="480.6" font-size="18" text-anchor="start" >(C)</text>
<text x="21.1" y="501.8" font-size="12.2" text-anchor="middle" >1</text>
<rect x="14.30" y="505.20" width="13.60" height="241.30" fill="#0096FA" />
<polygon points="14.3,690.8 27.9,692.3 27.9,746.5 14.3,746.5" fill="#FFBD00"/>
<line x1="21.30" y1="505.20" x2="21.30" y2="746.50" stroke="#0b2238" stroke-width="0.8" stroke-opacity="0.6"/>
<line x1="14.30" y1="512.50" x2="27.90" y2="512.50" stroke="#0b2238" stroke-width="0.85" stroke-opacity="0.85"/>
<line x1="14.30" y1="539.40" x2="27.90" y2="539.40" stroke="#0b2238" stroke-width="0.85" stroke-opacity="0.85"/>
<line x1="14.30" y1="550.10" x2="27.90" y2="550.10" stroke="#0b2238" stroke-width="0.85" stroke-opacity="0.85"/>
<line x1="14.30" y1="559.40" x2="27.90" y2="559.40" stroke="#0b2238" stroke-width="0.85" stroke-opacity="0.85"/>
<line x1="14.30" y1="566.60" x2="27.90" y2="566.60" stroke="#0b2238" stroke-width="0.85" stroke-opacity="0.85"/>
<line x1="14.30" y1="569.20" x2="27.90" y2="569.20" stroke="#0b2238" stroke-width="0.85" stroke-opacity="0.85"/>
<line x1="14.30" y1="682.40" x2="27.90" y2="682.40" stroke="#0b2238" stroke-width="0.85" stroke-opacity="0.85"/>
<line x1="14.30" y1="685.10" x2="27.90" y2="685.10" stroke="#0b2238" stroke-width="0.85" stroke-opacity="0.85"/>
<line x1="14.30" y1="695.50" x2="27.90" y2="695.50" stroke="#0b2238" stroke-width="0.85" stroke-opacity="0.85"/>
<line x1="14.30" y1="700.40" x2="27.90" y2="700.40" stroke="#0b2238" stroke-width="0.85" stroke-opacity="0.85"/>
<line x1="14.30" y1="701.90" x2="27.90" y2="701.90" stroke="#0b2238" stroke-width="0.85" stroke-opacity="0.85"/>
<line x1="14.30" y1="718.30" x2="27.90" y2="718.30" stroke="#0b2238" stroke-width="0.85" stroke-opacity="0.85"/>
<line x1="14.30" y1="727.30" x2="27.90" y2="727.30" stroke="#0b2238" stroke-width="0.85" stroke-opacity="0.85"/>
<line x1="14.30" y1="741.30" x2="27.90" y2="741.30" stroke="#0b2238" stroke-width="0.85" stroke-opacity="0.85"/>
<rect x="14.30" y="505.20" width="13.60" height="241.30" fill="none" stroke="#0b2238" stroke-opacity="0.35" stroke-width="0.8"/>
<text x="55.65" y="501.8" font-size="12.2" text-anchor="middle" >2</text>
<rect x="49.00" y="505.20" width="13.30" height="224.50" fill="#0096FA" />
<polygon points="49.0,685.7 62.3,687.6 62.3,729.7 49.0,729.7" fill="#FFBD00"/>
<line x1="55.85" y1="505.20" x2="55.85" y2="729.70" stroke="#0b2238" stroke-width="0.8" stroke-opacity="0.6"/>
<line x1="49.00" y1="505.90" x2="62.30" y2="505.90" stroke="#0b2238" stroke-width="0.85" stroke-opacity="0.85"/>
<line x1="49.00" y1="507.90" x2="62.30" y2="507.90" stroke="#0b2238" stroke-width="0.85" stroke-opacity="0.85"/>
<line x1="49.00" y1="509.90" x2="62.30" y2="509.90" stroke="#0b2238" stroke-width="0.85" stroke-opacity="0.85"/>
<line x1="49.00" y1="517.30" x2="62.30" y2="517.30" stroke="#0b2238" stroke-width="0.85" stroke-opacity="0.85"/>
<line x1="49.00" y1="559.40" x2="62.30" y2="559.40" stroke="#0b2238" stroke-width="0.85" stroke-opacity="0.85"/>
<line x1="49.00" y1="585.40" x2="62.30" y2="585.40" stroke="#0b2238" stroke-width="0.85" stroke-opacity="0.85"/>
<line x1="49.00" y1="653.30" x2="62.30" y2="653.30" stroke="#0b2238" stroke-width="0.85" stroke-opacity="0.85"/>
<line x1="49.00" y1="659.60" x2="62.30" y2="659.60" stroke="#0b2238" stroke-width="0.85" stroke-opacity="0.85"/>
<line x1="49.00" y1="670.10" x2="62.30" y2="670.10" stroke="#0b2238" stroke-width="0.85" stroke-opacity="0.85"/>
<line x1="49.00" y1="682.20" x2="62.30" y2="682.20" stroke="#0b2238" stroke-width="0.85" stroke-opacity="0.85"/>
<line x1="49.00" y1="700.40" x2="62.30" y2="700.40" stroke="#0b2238" stroke-width="0.85" stroke-opacity="0.85"/>
<line x1="49.00" y1="722.60" x2="62.30" y2="722.60" stroke="#0b2238" stroke-width="0.85" stroke-opacity="0.85"/>
<line x1="49.00" y1="726.10" x2="62.30" y2="726.10" stroke="#0b2238" stroke-width="0.85" stroke-opacity="0.85"/>
<rect x="49.00" y="505.20" width="13.30" height="224.50" fill="none" stroke="#0b2238" stroke-opacity="0.35" stroke-width="0.8"/>
<text x="78.85" y="501.8" font-size="12.2" text-anchor="middle" >3</text>
<rect x="72.30" y="505.20" width="13.10" height="229.60" fill="#0096FA" />
<line x1="79.05" y1="505.20" x2="79.05" y2="734.80" stroke="#0b2238" stroke-width="0.8" stroke-opacity="0.6"/>
<line x1="72.30" y1="512.50" x2="85.40" y2="512.50" stroke="#0b2238" stroke-width="0.85" stroke-opacity="0.85"/>
<line x1="72.30" y1="518.10" x2="85.40" y2="518.10" stroke="#0b2238" stroke-width="0.85" stroke-opacity="0.85"/>
<line x1="72.30" y1="523.60" x2="85.40" y2="523.60" stroke="#0b2238" stroke-width="0.85" stroke-opacity="0.85"/>
<line x1="72.30" y1="526.90" x2="85.40" y2="526.90" stroke="#0b2238" stroke-width="0.85" stroke-opacity="0.85"/>
<line x1="72.30" y1="528.90" x2="85.40" y2="528.90" stroke="#0b2238" stroke-width="0.85" stroke-opacity="0.85"/>
<line x1="72.30" y1="539.40" x2="85.40" y2="539.40" stroke="#0b2238" stroke-width="0.85" stroke-opacity="0.85"/>
<line x1="72.30" y1="659.60" x2="85.40" y2="659.60" stroke="#0b2238" stroke-width="0.85" stroke-opacity="0.85"/>
<line x1="72.30" y1="679.00" x2="85.40" y2="679.00" stroke="#0b2238" stroke-width="0.85" stroke-opacity="0.85"/>
<line x1="72.30" y1="688.30" x2="85.40" y2="688.30" stroke="#0b2238" stroke-width="0.85" stroke-opacity="0.85"/>
<line x1="72.30" y1="702.80" x2="85.40" y2="702.80" stroke="#0b2238" stroke-width="0.85" stroke-opacity="0.85"/>
<line x1="72.30" y1="720.30" x2="85.40" y2="720.30" stroke="#0b2238" stroke-width="0.85" stroke-opacity="0.85"/>
<line x1="72.30" y1="728.00" x2="85.40" y2="728.00" stroke="#0b2238" stroke-width="0.85" stroke-opacity="0.85"/>
<line x1="72.30" y1="729.60" x2="85.40" y2="729.60" stroke="#0b2238" stroke-width="0.85" stroke-opacity="0.85"/>
<rect x="72.30" y="505.20" width="13.10" height="229.60" fill="none" stroke="#0b2238" stroke-opacity="0.35" stroke-width="0.8"/>
<text x="102.1" y="501.8" font-size="12.2" text-anchor="middle" >4</text>
<rect x="95.30" y="505.20" width="13.60" height="202.10" fill="#0096FA" />
<polygon points="95.3,680.6 108.9,682.9 108.9,707.3 95.3,707.3" fill="#FFBD00"/>
<line x1="102.30" y1="505.20" x2="102.30" y2="707.30" stroke="#0b2238" stroke-width="0.8" stroke-opacity="0.6"/>
<line x1="95.30" y1="520.30" x2="108.90" y2="520.30" stroke="#0b2238" stroke-width="0.85" stroke-opacity="0.85"/>
<line x1="95.30" y1="528.20" x2="108.90" y2="528.20" stroke="#0b2238" stroke-width="0.85" stroke-opacity="0.85"/>
<line x1="95.30" y1="636.20" x2="108.90" y2="636.20" stroke="#0b2238" stroke-width="0.85" stroke-opacity="0.85"/>
<line x1="95.30" y1="653.70" x2="108.90" y2="653.70" stroke="#0b2238" stroke-width="0.85" stroke-opacity="0.85"/>
<line x1="95.30" y1="676.60" x2="108.90" y2="676.60" stroke="#0b2238" stroke-width="0.85" stroke-opacity="0.85"/>
<line x1="95.30" y1="688.80" x2="108.90" y2="688.80" stroke="#0b2238" stroke-width="0.85" stroke-opacity="0.85"/>
<line x1="95.30" y1="693.90" x2="108.90" y2="693.90" stroke="#0b2238" stroke-width="0.85" stroke-opacity="0.85"/>
<rect x="95.30" y="505.20" width="13.60" height="202.10" fill="none" stroke="#0b2238" stroke-opacity="0.35" stroke-width="0.8"/>
<text x="125.55" y="501.8" font-size="12.2" text-anchor="middle" >5</text>
<rect x="119.10" y="505.20" width="12.90" height="218.60" fill="#0096FA" />
<line x1="125.75" y1="505.20" x2="125.75" y2="723.80" stroke="#0b2238" stroke-width="0.8" stroke-opacity="0.6"/>
<line x1="119.10" y1="507.90" x2="132.00" y2="507.90" stroke="#0b2238" stroke-width="0.85" stroke-opacity="0.85"/>
<line x1="119.10" y1="510.20" x2="132.00" y2="510.20" stroke="#0b2238" stroke-width="0.85" stroke-opacity="0.85"/>
<line x1="119.10" y1="518.40" x2="132.00" y2="518.40" stroke="#0b2238" stroke-width="0.85" stroke-opacity="0.85"/>
<line x1="119.10" y1="519.30" x2="132.00" y2="519.30" stroke="#0b2238" stroke-width="0.85" stroke-opacity="0.85"/>
<line x1="119.10" y1="540.60" x2="132.00" y2="540.60" stroke="#0b2238" stroke-width="0.85" stroke-opacity="0.85"/>
<line x1="119.10" y1="695.80" x2="132.00" y2="695.80" stroke="#0b2238" stroke-width="0.85" stroke-opacity="0.85"/>
<line x1="119.10" y1="702.80" x2="132.00" y2="702.80" stroke="#0b2238" stroke-width="0.85" stroke-opacity="0.85"/>
<line x1="119.10" y1="714.50" x2="132.00" y2="714.50" stroke="#0b2238" stroke-width="0.85" stroke-opacity="0.85"/>
<rect x="119.10" y="505.20" width="12.90" height="218.60" fill="none" stroke="#0b2238" stroke-opacity="0.35" stroke-width="0.8"/>
<text x="148.45" y="501.8" font-size="12.2" text-anchor="middle" >6</text>
<rect x="142.10" y="505.40" width="12.70" height="178.10" fill="#0096FA" />
<polygon points="142.1,569.7 148.5,571.0 148.5,637.1 154.8,638.7 154.8,661.3 148.5,660.8 142.1,660.2" fill="#FFBD00"/>
<line x1="148.65" y1="505.40" x2="148.65" y2="683.50" stroke="#0b2238" stroke-width="0.8" stroke-opacity="0.6"/>
<line x1="142.10" y1="506.30" x2="154.80" y2="506.30" stroke="#0b2238" stroke-width="0.85" stroke-opacity="0.85"/>
<line x1="142.10" y1="510.60" x2="154.80" y2="510.60" stroke="#0b2238" stroke-width="0.85" stroke-opacity="0.85"/>
<line x1="142.10" y1="622.30" x2="154.80" y2="622.30" stroke="#0b2238" stroke-width="0.85" stroke-opacity="0.85"/>
<line x1="142.10" y1="623.60" x2="154.80" y2="623.60" stroke="#0b2238" stroke-width="0.85" stroke-opacity="0.85"/>
<line x1="142.10" y1="628.40" x2="154.80" y2="628.40" stroke="#0b2238" stroke-width="0.85" stroke-opacity="0.85"/>
<line x1="142.10" y1="646.30" x2="154.80" y2="646.30" stroke="#0b2238" stroke-width="0.85" stroke-opacity="0.85"/>
<line x1="142.10" y1="654.30" x2="154.80" y2="654.30" stroke="#0b2238" stroke-width="0.85" stroke-opacity="0.85"/>
<line x1="142.10" y1="655.20" x2="154.80" y2="655.20" stroke="#0b2238" stroke-width="0.85" stroke-opacity="0.85"/>
<line x1="142.10" y1="656.60" x2="154.80" y2="656.60" stroke="#0b2238" stroke-width="0.85" stroke-opacity="0.85"/>
<line x1="142.10" y1="667.30" x2="154.80" y2="667.30" stroke="#0b2238" stroke-width="0.85" stroke-opacity="0.85"/>
<rect x="142.10" y="505.40" width="12.70" height="178.10" fill="none" stroke="#0b2238" stroke-opacity="0.35" stroke-width="0.8"/>
<text x="183.0" y="501.8" font-size="12.2" text-anchor="middle" >7</text>
<rect x="176.40" y="505.10" width="13.20" height="195.30" fill="#0096FA" />
<polygon points="176.4,505.1 189.6,505.1 189.6,514.7 183.3,515.4 183.3,519.5 176.4,519.5" fill="#FFBD00"/>
<polygon points="176.4,680.0 189.6,681.2 189.6,700.4 176.4,700.4" fill="#FFBD00"/>
<line x1="183.20" y1="505.10" x2="183.20" y2="700.40" stroke="#0b2238" stroke-width="0.8" stroke-opacity="0.6"/>
<line x1="176.40" y1="513.50" x2="189.60" y2="513.50" stroke="#0b2238" stroke-width="0.85" stroke-opacity="0.85"/>
<line x1="176.40" y1="519.20" x2="189.60" y2="519.20" stroke="#0b2238" stroke-width="0.85" stroke-opacity="0.85"/>
<line x1="176.40" y1="520.20" x2="189.60" y2="520.20" stroke="#0b2238" stroke-width="0.85" stroke-opacity="0.85"/>
<line x1="176.40" y1="521.40" x2="189.60" y2="521.40" stroke="#0b2238" stroke-width="0.85" stroke-opacity="0.85"/>
<line x1="176.40" y1="528.10" x2="189.60" y2="528.10" stroke="#0b2238" stroke-width="0.85" stroke-opacity="0.85"/>
<line x1="176.40" y1="544.50" x2="189.60" y2="544.50" stroke="#0b2238" stroke-width="0.85" stroke-opacity="0.85"/>
<line x1="176.40" y1="668.50" x2="189.60" y2="668.50" stroke="#0b2238" stroke-width="0.85" stroke-opacity="0.85"/>
<line x1="176.40" y1="670.70" x2="189.60" y2="670.70" stroke="#0b2238" stroke-width="0.85" stroke-opacity="0.85"/>
<line x1="176.40" y1="674.60" x2="189.60" y2="674.60" stroke="#0b2238" stroke-width="0.85" stroke-opacity="0.85"/>
<line x1="176.40" y1="676.00" x2="189.60" y2="676.00" stroke="#0b2238" stroke-width="0.85" stroke-opacity="0.85"/>
<line x1="176.40" y1="685.90" x2="189.60" y2="685.90" stroke="#0b2238" stroke-width="0.85" stroke-opacity="0.85"/>
<line x1="176.40" y1="694.30" x2="189.60" y2="694.30" stroke="#0b2238" stroke-width="0.85" stroke-opacity="0.85"/>
<rect x="176.40" y="505.10" width="13.20" height="195.30" fill="none" stroke="#0b2238" stroke-opacity="0.35" stroke-width="0.8"/>
<text x="214.55" y="501.8" font-size="12.2" text-anchor="middle" >8</text>
<rect x="208.20" y="505.10" width="12.70" height="186.90" fill="#0096FA" />
<line x1="214.75" y1="505.10" x2="214.75" y2="692.00" stroke="#0b2238" stroke-width="0.8" stroke-opacity="0.6"/>
<line x1="208.20" y1="506.00" x2="220.90" y2="506.00" stroke="#0b2238" stroke-width="0.85" stroke-opacity="0.85"/>
<line x1="208.20" y1="508.50" x2="220.90" y2="508.50" stroke="#0b2238" stroke-width="0.85" stroke-opacity="0.85"/>
<line x1="208.20" y1="513.60" x2="220.90" y2="513.60" stroke="#0b2238" stroke-width="0.85" stroke-opacity="0.85"/>
<line x1="208.20" y1="515.00" x2="220.90" y2="515.00" stroke="#0b2238" stroke-width="0.85" stroke-opacity="0.85"/>
<line x1="208.20" y1="518.70" x2="220.90" y2="518.70" stroke="#0b2238" stroke-width="0.85" stroke-opacity="0.85"/>
<line x1="208.20" y1="540.10" x2="220.90" y2="540.10" stroke="#0b2238" stroke-width="0.85" stroke-opacity="0.85"/>
<line x1="208.20" y1="548.20" x2="220.90" y2="548.20" stroke="#0b2238" stroke-width="0.85" stroke-opacity="0.85"/>
<line x1="208.20" y1="552.30" x2="220.90" y2="552.30" stroke="#0b2238" stroke-width="0.85" stroke-opacity="0.85"/>
<line x1="208.20" y1="555.50" x2="220.90" y2="555.50" stroke="#0b2238" stroke-width="0.85" stroke-opacity="0.85"/>
<line x1="208.20" y1="669.40" x2="220.90" y2="669.40" stroke="#0b2238" stroke-width="0.85" stroke-opacity="0.85"/>
<line x1="208.20" y1="670.60" x2="220.90" y2="670.60" stroke="#0b2238" stroke-width="0.85" stroke-opacity="0.85"/>
<line x1="208.20" y1="677.20" x2="220.90" y2="677.20" stroke="#0b2238" stroke-width="0.85" stroke-opacity="0.85"/>
<line x1="208.20" y1="679.50" x2="220.90" y2="679.50" stroke="#0b2238" stroke-width="0.85" stroke-opacity="0.85"/>
<rect x="208.20" y="505.10" width="12.70" height="186.90" fill="none" stroke="#0b2238" stroke-opacity="0.35" stroke-width="0.8"/>
<text x="236.95" y="501.8" font-size="12.2" text-anchor="middle" >9</text>
<rect x="230.40" y="505.10" width="13.10" height="179.60" fill="#0096FA" />
<polygon points="230.4,664.5 243.5,666.8 243.5,684.7 230.4,684.7" fill="#FFBD00"/>
<line x1="237.15" y1="505.10" x2="237.15" y2="684.70" stroke="#0b2238" stroke-width="0.8" stroke-opacity="0.6"/>
<line x1="230.40" y1="506.00" x2="243.50" y2="506.00" stroke="#0b2238" stroke-width="0.85" stroke-opacity="0.85"/>
<line x1="230.40" y1="510.70" x2="243.50" y2="510.70" stroke="#0b2238" stroke-width="0.85" stroke-opacity="0.85"/>
<line x1="230.40" y1="517.70" x2="243.50" y2="517.70" stroke="#0b2238" stroke-width="0.85" stroke-opacity="0.85"/>
<line x1="230.40" y1="520.90" x2="243.50" y2="520.90" stroke="#0b2238" stroke-width="0.85" stroke-opacity="0.85"/>
<line x1="230.40" y1="523.40" x2="243.50" y2="523.40" stroke="#0b2238" stroke-width="0.85" stroke-opacity="0.85"/>
<line x1="230.40" y1="533.30" x2="243.50" y2="533.30" stroke="#0b2238" stroke-width="0.85" stroke-opacity="0.85"/>
<line x1="230.40" y1="648.40" x2="243.50" y2="648.40" stroke="#0b2238" stroke-width="0.85" stroke-opacity="0.85"/>
<line x1="230.40" y1="649.50" x2="243.50" y2="649.50" stroke="#0b2238" stroke-width="0.85" stroke-opacity="0.85"/>
<line x1="230.40" y1="658.40" x2="243.50" y2="658.40" stroke="#0b2238" stroke-width="0.85" stroke-opacity="0.85"/>
<line x1="230.40" y1="659.40" x2="243.50" y2="659.40" stroke="#0b2238" stroke-width="0.85" stroke-opacity="0.85"/>
<line x1="230.40" y1="672.10" x2="243.50" y2="672.10" stroke="#0b2238" stroke-width="0.85" stroke-opacity="0.85"/>
<line x1="230.40" y1="680.40" x2="243.50" y2="680.40" stroke="#0b2238" stroke-width="0.85" stroke-opacity="0.85"/>
<line x1="230.40" y1="682.10" x2="243.50" y2="682.10" stroke="#0b2238" stroke-width="0.85" stroke-opacity="0.85"/>
<rect x="230.40" y="505.10" width="13.10" height="179.60" fill="none" stroke="#0b2238" stroke-opacity="0.35" stroke-width="0.8"/>
<text x="266.4" y="501.8" font-size="12.2" text-anchor="middle" >10</text>
<rect x="260.00" y="505.10" width="12.80" height="178.50" fill="#0096FA" />
<polygon points="260.0,505.1 272.8,505.1 272.8,506.6 260.0,508.2" fill="#FFBD00"/>
<polygon points="260.0,609.2 266.4,610.4 266.4,669.4 260.0,668.3" fill="#FFBD00"/>
<line x1="266.60" y1="505.10" x2="266.60" y2="683.60" stroke="#0b2238" stroke-width="0.8" stroke-opacity="0.6"/>
<line x1="260.00" y1="522.30" x2="272.80" y2="522.30" stroke="#0b2238" stroke-width="0.85" stroke-opacity="0.85"/>
<line x1="260.00" y1="534.70" x2="272.80" y2="534.70" stroke="#0b2238" stroke-width="0.85" stroke-opacity="0.85"/>
<line x1="260.00" y1="536.90" x2="272.80" y2="536.90" stroke="#0b2238" stroke-width="0.85" stroke-opacity="0.85"/>
<line x1="260.00" y1="558.40" x2="272.80" y2="558.40" stroke="#0b2238" stroke-width="0.85" stroke-opacity="0.85"/>
<line x1="260.00" y1="658.30" x2="272.80" y2="658.30" stroke="#0b2238" stroke-width="0.85" stroke-opacity="0.85"/>
<line x1="260.00" y1="659.80" x2="272.80" y2="659.80" stroke="#0b2238" stroke-width="0.85" stroke-opacity="0.85"/>
<line x1="260.00" y1="662.10" x2="272.80" y2="662.10" stroke="#0b2238" stroke-width="0.85" stroke-opacity="0.85"/>
<line x1="260.00" y1="675.50" x2="272.80" y2="675.50" stroke="#0b2238" stroke-width="0.85" stroke-opacity="0.85"/>
<line x1="260.00" y1="677.00" x2="272.80" y2="677.00" stroke="#0b2238" stroke-width="0.85" stroke-opacity="0.85"/>
<rect x="260.00" y="505.10" width="12.80" height="178.50" fill="none" stroke="#0b2238" stroke-opacity="0.35" stroke-width="0.8"/>
<polygon points="27.5,710.4 33.7,706.8 33.7,714.0" fill="#FF0000"/>
<polygon points="155.4,507.7 161.6,504.1 161.6,511.3" fill="#FF0000"/>
<polygon points="189.6,672.5 195.8,668.9 195.8,676.1" fill="#FF0000"/>
<polygon points="189.6,685.5 195.8,681.9 195.8,689.1" fill="#FF0000"/>
<polygon points="242.9,675.9 249.1,672.3 249.1,679.5" fill="#FF0000"/>
<line x1="157.80" y1="591.20" x2="157.80" y2="628.60" stroke="#FF0000" stroke-width="1.3" />
<text x="0" y="0" font-size="12.1" font-style="italic" transform="translate(37.2,650.3) rotate(90)">Ma3/SbPhyB</text>
<text x="0" y="0" font-size="12.1" font-style="italic" transform="translate(163.0,505.4) rotate(90)">Ma6/SbGhd7</text>
<text x="0" y="0" font-size="12.1" font-style="italic" transform="translate(161.5,582.9) rotate(90)">qCL-6b/qFD-6b</text>
<text x="0" y="0" font-size="12.1" font-style="italic" transform="translate(197.4,642.7) rotate(90)">Dw7a</text>
<text x="0" y="0" font-size="12.1" font-style="italic" transform="translate(197.8,683.0) rotate(90)">Dw3</text>
<text x="0" y="0" font-size="12.1" font-style="italic" transform="translate(250.2,671.5) rotate(90)">Dw1</text>
<text x="320.8" y="478.7" font-size="18" text-anchor="start" >(D)</text>
<text x="378.8" y="488.8" font-size="23.2" text-anchor="middle" >a</text>
<text x="421.2" y="488.8" font-size="23.2" text-anchor="middle" >a</text>
<text x="462.9" y="488.8" font-size="23.2" text-anchor="middle" >b</text>
<line x1="353.60" y1="529.40" x2="356.40" y2="529.40" stroke="#333" stroke-width="1" />
<text x="352.9" y="533.6" font-size="10.4" text-anchor="end" style="fill:#222;stroke:#222">400</text>
<line x1="353.60" y1="575.00" x2="356.40" y2="575.00" stroke="#333" stroke-width="1" />
<text x="352.9" y="579.2" font-size="10.4" text-anchor="end" style="fill:#222;stroke:#222">350</text>
<line x1="353.60" y1="620.60" x2="356.40" y2="620.60" stroke="#333" stroke-width="1" />
<text x="352.9" y="624.8000000000001" font-size="10.4" text-anchor="end" style="fill:#222;stroke:#222">300</text>
<line x1="353.60" y1="666.20" x2="356.40" y2="666.20" stroke="#333" stroke-width="1" />
<text x="352.9" y="670.4000000000001" font-size="10.4" text-anchor="end" style="fill:#222;stroke:#222">250</text>
<line x1="353.60" y1="711.80" x2="356.40" y2="711.80" stroke="#333" stroke-width="1" />
<text x="352.9" y="716.0000000000001" font-size="10.4" text-anchor="end" style="fill:#222;stroke:#222">200</text>
<text x="0" y="0" font-size="11" text-anchor="middle" transform="translate(330.6,616.6) rotate(-90)" >Culm Length (cm)</text>
<line x1="381.10" y1="541.60" x2="381.10" y2="549.00" stroke="#666" stroke-width="1.0" />
<line x1="381.10" y1="571.30" x2="381.10" y2="592.80" stroke="#666" stroke-width="1.0" />
<rect x="365.60" y="549.00" width="31.10" height="22.30" fill="none" stroke="#666" stroke-width="1.0"/>
<line x1="365.60" y1="558.70" x2="396.70" y2="558.70" stroke="#333" stroke-width="1.8" />
<line x1="422.50" y1="513.80" x2="422.50" y2="541.40" stroke="#666" stroke-width="1.0" />
<line x1="422.50" y1="577.30" x2="422.50" y2="611.00" stroke="#666" stroke-width="1.0" />
<rect x="406.80" y="541.40" width="31.40" height="35.90" fill="none" stroke="#666" stroke-width="1.0"/>
<line x1="406.80" y1="556.50" x2="438.20" y2="556.50" stroke="#333" stroke-width="1.8" />
<line x1="464.10" y1="616.80" x2="464.10" y2="663.10" stroke="#666" stroke-width="1.0" />
<line x1="464.10" y1="697.70" x2="464.10" y2="720.00" stroke="#666" stroke-width="1.0" />
<rect x="448.30" y="663.10" width="31.20" height="34.60" fill="none" stroke="#666" stroke-width="1.0"/>
<line x1="448.30" y1="681.20" x2="479.50" y2="681.20" stroke="#333" stroke-width="1.8" />
<circle cx="381.1" cy="612.5" r="1.45" fill="#333333"/>
<circle cx="381.1" cy="629.6" r="1.45" fill="#333333"/>
<circle cx="422.6" cy="703.5" r="1.45" fill="#333333"/>
<circle cx="464.1" cy="584.3" r="1.45" fill="#333333"/>
<circle cx="464.1" cy="598.0" r="1.45" fill="#333333"/>
<circle cx="464.1" cy="609.5" r="1.45" fill="#333333"/>
<circle cx="378.4" cy="541.0" r="1.45" fill="#F8766D"/>
<circle cx="382.0" cy="545.3" r="1.45" fill="#F8766D"/>
<circle cx="375.5" cy="548.2" r="1.45" fill="#F8766D"/>
<circle cx="381.4" cy="548.9" r="1.45" fill="#F8766D"/>
<circle cx="376.4" cy="552.5" r="1.45" fill="#F8766D"/>
<circle cx="375.3" cy="555.6" r="1.45" fill="#F8766D"/>
<circle cx="386.7" cy="556.5" r="1.45" fill="#F8766D"/>
<circle cx="374.0" cy="561.1" r="1.45" fill="#F8766D"/>
<circle cx="378.5" cy="566.9" r="1.45" fill="#F8766D"/>
<circle cx="379.2" cy="582.9" r="1.45" fill="#F8766D"/>
<circle cx="373.6" cy="593.0" r="1.45" fill="#F8766D"/>
<circle cx="378.0" cy="612.5" r="1.45" fill="#F8766D"/>
<circle cx="375.3" cy="629.6" r="1.45" fill="#F8766D"/>
<circle cx="426.6" cy="513.9" r="1.45" fill="#00BA38"/>
<circle cx="416.9" cy="527.6" r="1.45" fill="#00BA38"/>
<circle cx="423.5" cy="526.3" r="1.45" fill="#00BA38"/>
<circle cx="427.6" cy="529.8" r="1.45" fill="#00BA38"/>
<circle cx="428.9" cy="529.4" r="1.45" fill="#00BA38"/>
<circle cx="422.7" cy="539.1" r="1.45" fill="#00BA38"/>
<circle cx="427.0" cy="540.4" r="1.45" fill="#00BA38"/>
<circle cx="428.9" cy="537.9" r="1.45" fill="#00BA38"/>
<circle cx="430.7" cy="538.5" r="1.45" fill="#00BA38"/>
<circle cx="414.6" cy="542.2" r="1.45" fill="#00BA38"/>
<circle cx="416.5" cy="542.2" r="1.45" fill="#00BA38"/>
<circle cx="430.1" cy="545.0" r="1.45" fill="#00BA38"/>
<circle cx="415.2" cy="553.1" r="1.45" fill="#00BA38"/>
<circle cx="416.5" cy="552.8" r="1.45" fill="#00BA38"/>
<circle cx="422.0" cy="551.3" r="1.45" fill="#00BA38"/>
<circle cx="415.2" cy="555.2" r="1.45" fill="#00BA38"/>
<circle cx="419.3" cy="555.6" r="1.45" fill="#00BA38"/>
<circle cx="423.9" cy="555.0" r="1.45" fill="#00BA38"/>
<circle cx="426.4" cy="555.9" r="1.45" fill="#00BA38"/>
<circle cx="429.7" cy="555.2" r="1.45" fill="#00BA38"/>
<circle cx="428.0" cy="562.3" r="1.45" fill="#00BA38"/>
<circle cx="427.6" cy="563.6" r="1.45" fill="#00BA38"/>
<circle cx="414.6" cy="566.7" r="1.45" fill="#00BA38"/>
<circle cx="423.3" cy="565.5" r="1.45" fill="#00BA38"/>
<circle cx="424.5" cy="564.8" r="1.45" fill="#00BA38"/>
<circle cx="427.6" cy="567.7" r="1.45" fill="#00BA38"/>
<circle cx="425.8" cy="569.3" r="1.45" fill="#00BA38"/>
<circle cx="418.9" cy="573.0" r="1.45" fill="#00BA38"/>
<circle cx="428.9" cy="576.3" r="1.45" fill="#00BA38"/>
<circle cx="415.2" cy="578.8" r="1.45" fill="#00BA38"/>
<circle cx="428.0" cy="582.9" r="1.45" fill="#00BA38"/>
<circle cx="425.5" cy="589.4" r="1.45" fill="#00BA38"/>
<circle cx="417.1" cy="595.1" r="1.45" fill="#00BA38"/>
<circle cx="414.2" cy="600.1" r="1.45" fill="#00BA38"/>
<circle cx="424.3" cy="603.3" r="1.45" fill="#00BA38"/>
<circle cx="425.4" cy="604.2" r="1.45" fill="#00BA38"/>
<circle cx="429.0" cy="604.2" r="1.45" fill="#00BA38"/>
<circle cx="424.3" cy="611.6" r="1.45" fill="#00BA38"/>
<circle cx="426.1" cy="703.5" r="1.45" fill="#00BA38"/>
<circle cx="422.0" cy="713.4" r="1.45" fill="#00BA38"/>
<circle cx="460.6" cy="584.3" r="1.45" fill="#619CFF"/>
<circle cx="456.2" cy="597.4" r="1.45" fill="#619CFF"/>
<circle cx="466.6" cy="609.5" r="1.45" fill="#619CFF"/>
<circle cx="471.6" cy="616.6" r="1.45" fill="#619CFF"/>
<circle cx="457.9" cy="652.3" r="1.45" fill="#619CFF"/>
<circle cx="468.6" cy="663.5" r="1.45" fill="#619CFF"/>
<circle cx="456.1" cy="666.1" r="1.45" fill="#619CFF"/>
<circle cx="459.9" cy="672.6" r="1.45" fill="#619CFF"/>
<circle cx="465.2" cy="675.1" r="1.45" fill="#619CFF"/>
<circle cx="469.1" cy="673.1" r="1.45" fill="#619CFF"/>
<circle cx="456.9" cy="681.4" r="1.45" fill="#619CFF"/>
<circle cx="459.1" cy="683.1" r="1.45" fill="#619CFF"/>
<circle cx="462.9" cy="682.2" r="1.45" fill="#619CFF"/>
<circle cx="457.4" cy="692.5" r="1.45" fill="#619CFF"/>
<circle cx="462.1" cy="693.0" r="1.45" fill="#619CFF"/>
<circle cx="460.3" cy="697.5" r="1.45" fill="#619CFF"/>
<circle cx="466.1" cy="700.5" r="1.45" fill="#619CFF"/>
<circle cx="469.1" cy="699.7" r="1.45" fill="#619CFF"/>
<circle cx="470.4" cy="700.5" r="1.45" fill="#619CFF"/>
<circle cx="468.7" cy="706.8" r="1.45" fill="#619CFF"/>
<circle cx="466.6" cy="720.4" r="1.45" fill="#619CFF"/>
<rect x="356.4" y="503.4" width="131.9" height="227.0" fill="none" stroke="#555" stroke-width="1.1"/>
<line x1="381.10" y1="730.40" x2="381.10" y2="733.00" stroke="#333" stroke-width="1" />
<text x="381.1" y="741.0" font-size="10.8" text-anchor="middle" style="fill:#222;stroke:#222">AA</text>
<line x1="422.50" y1="730.40" x2="422.50" y2="733.00" stroke="#333" stroke-width="1" />
<text x="422.5" y="741.0" font-size="10.8" text-anchor="middle" style="fill:#222;stroke:#222">AB</text>
<line x1="464.10" y1="730.40" x2="464.10" y2="733.00" stroke="#333" stroke-width="1" />
<text x="464.1" y="741.0" font-size="10.8" text-anchor="middle" style="fill:#222;stroke:#222">BB</text>
<text x="424.8" y="761.3" font-size="13.5" text-anchor="middle" >SB3481</text>
<text x="425.5" y="777.8" font-size="13.5" text-anchor="middle" >(<tspan font-style="italic">qCL-6b</tspan>/<tspan font-style="italic">qFD-6b</tspan>)</text>
<text x="507.2" y="478.7" font-size="18" text-anchor="start" >(E)</text>
<text x="570.3" y="488.8" font-size="23.2" text-anchor="middle" >a</text>
<text x="611.1" y="488.8" font-size="23.2" text-anchor="middle" >a</text>
<text x="652.9" y="488.8" font-size="23.2" text-anchor="middle" >b</text>
<line x1="544.10" y1="548.60" x2="546.90" y2="548.60" stroke="#333" stroke-width="1" />
<text x="543.2" y="552.8" font-size="10.4" text-anchor="end" style="fill:#222;stroke:#222">160</text>
<line x1="544.10" y1="595.30" x2="546.90" y2="595.30" stroke="#333" stroke-width="1" />
<text x="543.2" y="599.5" font-size="10.4" text-anchor="end" style="fill:#222;stroke:#222">140</text>
<line x1="544.10" y1="642.00" x2="546.90" y2="642.00" stroke="#333" stroke-width="1" />
<text x="543.2" y="646.2" font-size="10.4" text-anchor="end" style="fill:#222;stroke:#222">120</text>
<line x1="544.10" y1="688.70" x2="546.90" y2="688.70" stroke="#333" stroke-width="1" />
<text x="543.2" y="692.9" font-size="10.4" text-anchor="end" style="fill:#222;stroke:#222">100</text>
<text x="0" y="0" font-size="10.7" text-anchor="middle" transform="translate(519.9,613.1) rotate(-90)" >Flowering Date (days)</text>
<line x1="571.20" y1="513.70" x2="571.20" y2="530.80" stroke="#666" stroke-width="1.0" />
<line x1="571.20" y1="590.20" x2="571.20" y2="602.30" stroke="#666" stroke-width="1.0" />
<rect x="555.80" y="530.80" width="31.00" height="59.40" fill="none" stroke="#666" stroke-width="1.0"/>
<line x1="555.80" y1="530.80" x2="586.80" y2="530.80" stroke="#333" stroke-width="2.2" />
<line x1="612.70" y1="513.70" x2="612.70" y2="532.20" stroke="#666" stroke-width="1.0" />
<line x1="612.70" y1="576.50" x2="612.70" y2="634.70" stroke="#666" stroke-width="1.0" />
<rect x="597.40" y="532.20" width="31.10" height="44.30" fill="none" stroke="#666" stroke-width="1.0"/>
<line x1="597.40" y1="546.20" x2="628.50" y2="546.20" stroke="#333" stroke-width="1.8" />
<line x1="654.30" y1="635.80" x2="654.30" y2="672.50" stroke="#666" stroke-width="1.0" />
<line x1="654.30" y1="700.40" x2="654.30" y2="712.50" stroke="#666" stroke-width="1.0" />
<rect x="638.50" y="672.50" width="31.80" height="27.90" fill="none" stroke="#666" stroke-width="1.0"/>
<line x1="638.50" y1="687.00" x2="670.30" y2="687.00" stroke="#333" stroke-width="1.8" />
<circle cx="612.6" cy="707.6" r="1.45" fill="#333333"/>
<circle cx="612.6" cy="719.6" r="1.45" fill="#333333"/>
<circle cx="654.5" cy="513.4" r="1.45" fill="#333333"/>
<circle cx="654.3" cy="628.3" r="1.45" fill="#333333"/>
<circle cx="566.5" cy="531.5" r="1.45" fill="#F8766D"/>
<circle cx="571.0" cy="530.0" r="1.45" fill="#F8766D"/>
<circle cx="577.0" cy="531.0" r="1.45" fill="#F8766D"/>
<circle cx="567.4" cy="512.7" r="1.45" fill="#F8766D"/>
<circle cx="569.2" cy="513.4" r="1.45" fill="#F8766D"/>
<circle cx="571.7" cy="513.7" r="1.45" fill="#F8766D"/>
<circle cx="573.8" cy="513.4" r="1.45" fill="#F8766D"/>
<circle cx="563.0" cy="529.2" r="1.45" fill="#F8766D"/>
<circle cx="565.5" cy="529.8" r="1.45" fill="#F8766D"/>
<circle cx="568.6" cy="530.4" r="1.45" fill="#F8766D"/>
<circle cx="564.9" cy="532.9" r="1.45" fill="#F8766D"/>
<circle cx="574.2" cy="529.2" r="1.45" fill="#F8766D"/>
<circle cx="576.1" cy="530.2" r="1.45" fill="#F8766D"/>
<circle cx="578.3" cy="529.8" r="1.45" fill="#F8766D"/>
<circle cx="564.3" cy="546.3" r="1.45" fill="#F8766D"/>
<circle cx="563.3" cy="576.6" r="1.45" fill="#F8766D"/>
<circle cx="568.4" cy="580.5" r="1.45" fill="#F8766D"/>
<circle cx="567.1" cy="592.7" r="1.45" fill="#F8766D"/>
<circle cx="569.9" cy="592.7" r="1.45" fill="#F8766D"/>
<circle cx="576.7" cy="593.0" r="1.45" fill="#F8766D"/>
<circle cx="578.3" cy="592.8" r="1.45" fill="#F8766D"/>
<circle cx="574.4" cy="602.3" r="1.45" fill="#F8766D"/>
<circle cx="606.0" cy="531.5" r="1.45" fill="#00BA38"/>
<circle cx="612.0" cy="530.0" r="1.45" fill="#00BA38"/>
<circle cx="616.5" cy="532.0" r="1.45" fill="#00BA38"/>
<circle cx="619.0" cy="530.5" r="1.45" fill="#00BA38"/>
<circle cx="605.5" cy="547.0" r="1.45" fill="#00BA38"/>
<circle cx="609.0" cy="545.5" r="1.45" fill="#00BA38"/>
<circle cx="612.5" cy="546.5" r="1.45" fill="#00BA38"/>
<circle cx="616.0" cy="547.0" r="1.45" fill="#00BA38"/>
<circle cx="618.0" cy="546.8" r="1.45" fill="#00BA38"/>
<circle cx="609.5" cy="553.2" r="1.45" fill="#00BA38"/>
<circle cx="613.5" cy="553.6" r="1.45" fill="#00BA38"/>
<circle cx="606.2" cy="513.7" r="1.45" fill="#00BA38"/>
<circle cx="613.3" cy="513.9" r="1.45" fill="#00BA38"/>
<circle cx="615.1" cy="513.7" r="1.45" fill="#00BA38"/>
<circle cx="617.4" cy="513.7" r="1.45" fill="#00BA38"/>
<circle cx="604.2" cy="529.4" r="1.45" fill="#00BA38"/>
<circle cx="608.3" cy="532.3" r="1.45" fill="#00BA38"/>
<circle cx="610.8" cy="531.1" r="1.45" fill="#00BA38"/>
<circle cx="613.3" cy="531.7" r="1.45" fill="#00BA38"/>
<circle cx="615.1" cy="529.2" r="1.45" fill="#00BA38"/>
<circle cx="617.0" cy="529.8" r="1.45" fill="#00BA38"/>
<circle cx="618.2" cy="531.7" r="1.45" fill="#00BA38"/>
<circle cx="604.6" cy="545.7" r="1.45" fill="#00BA38"/>
<circle cx="607.1" cy="546.6" r="1.45" fill="#00BA38"/>
<circle cx="610.2" cy="547.4" r="1.45" fill="#00BA38"/>
<circle cx="614.5" cy="546.9" r="1.45" fill="#00BA38"/>
<circle cx="617.0" cy="545.9" r="1.45" fill="#00BA38"/>
<circle cx="619.5" cy="545.7" r="1.45" fill="#00BA38"/>
<circle cx="608.3" cy="553.8" r="1.45" fill="#00BA38"/>
<circle cx="612.0" cy="552.8" r="1.45" fill="#00BA38"/>
<circle cx="615.8" cy="552.5" r="1.45" fill="#00BA38"/>
<circle cx="607.1" cy="576.3" r="1.45" fill="#00BA38"/>
<circle cx="606.2" cy="592.7" r="1.45" fill="#00BA38"/>
<circle cx="610.8" cy="593.0" r="1.45" fill="#00BA38"/>
<circle cx="613.9" cy="593.0" r="1.45" fill="#00BA38"/>
<circle cx="614.8" cy="592.4" r="1.45" fill="#00BA38"/>
<circle cx="618.0" cy="592.7" r="1.45" fill="#00BA38"/>
<circle cx="608.6" cy="602.1" r="1.45" fill="#00BA38"/>
<circle cx="618.2" cy="603.0" r="1.45" fill="#00BA38"/>
<circle cx="613.3" cy="627.8" r="1.45" fill="#00BA38"/>
<circle cx="618.9" cy="636.1" r="1.45" fill="#00BA38"/>
<circle cx="618.7" cy="708.5" r="1.45" fill="#00BA38"/>
<circle cx="609.7" cy="718.7" r="1.45" fill="#00BA38"/>
<circle cx="648.3" cy="513.4" r="1.45" fill="#619CFF"/>
<circle cx="648.5" cy="627.9" r="1.45" fill="#619CFF"/>
<circle cx="653.0" cy="636.0" r="1.45" fill="#619CFF"/>
<circle cx="659.4" cy="636.0" r="1.45" fill="#619CFF"/>
<circle cx="657.9" cy="669.9" r="1.45" fill="#619CFF"/>
<circle cx="646.4" cy="673.5" r="1.45" fill="#619CFF"/>
<circle cx="650.5" cy="675.4" r="1.45" fill="#619CFF"/>
<circle cx="651.1" cy="680.4" r="1.45" fill="#619CFF"/>
<circle cx="660.1" cy="682.0" r="1.45" fill="#619CFF"/>
<circle cx="653.9" cy="684.6" r="1.45" fill="#619CFF"/>
<circle cx="653.7" cy="686.5" r="1.45" fill="#619CFF"/>
<circle cx="647.6" cy="689.1" r="1.45" fill="#619CFF"/>
<circle cx="646.0" cy="699.9" r="1.45" fill="#619CFF"/>
<circle cx="649.8" cy="699.9" r="1.45" fill="#619CFF"/>
<circle cx="653.0" cy="701.2" r="1.45" fill="#619CFF"/>
<circle cx="662.6" cy="700.8" r="1.45" fill="#619CFF"/>
<circle cx="646.6" cy="703.8" r="1.45" fill="#619CFF"/>
<circle cx="656.9" cy="705.9" r="1.45" fill="#619CFF"/>
<circle cx="655.6" cy="712.3" r="1.45" fill="#619CFF"/>
<rect x="546.9" y="502.6" width="132.1" height="226.9" fill="none" stroke="#555" stroke-width="1.1"/>
<line x1="571.20" y1="729.50" x2="571.20" y2="732.10" stroke="#333" stroke-width="1" />
<text x="571.2" y="740.6" font-size="10.8" text-anchor="middle" style="fill:#222;stroke:#222">AA</text>
<line x1="612.70" y1="729.50" x2="612.70" y2="732.10" stroke="#333" stroke-width="1" />
<text x="612.7" y="740.6" font-size="10.8" text-anchor="middle" style="fill:#222;stroke:#222">AB</text>
<line x1="654.30" y1="729.50" x2="654.30" y2="732.10" stroke="#333" stroke-width="1" />
<text x="654.3" y="740.6" font-size="10.8" text-anchor="middle" style="fill:#222;stroke:#222">BB</text>
<text x="611.7" y="761.3" font-size="13.5" text-anchor="middle" >SB3481</text>
<text x="612.6" y="777.8" font-size="13.5" text-anchor="middle" >(<tspan font-style="italic">qCL-6b</tspan>/<tspan font-style="italic">qFD-6b</tspan>)</text>
</svg>
</body></html>
